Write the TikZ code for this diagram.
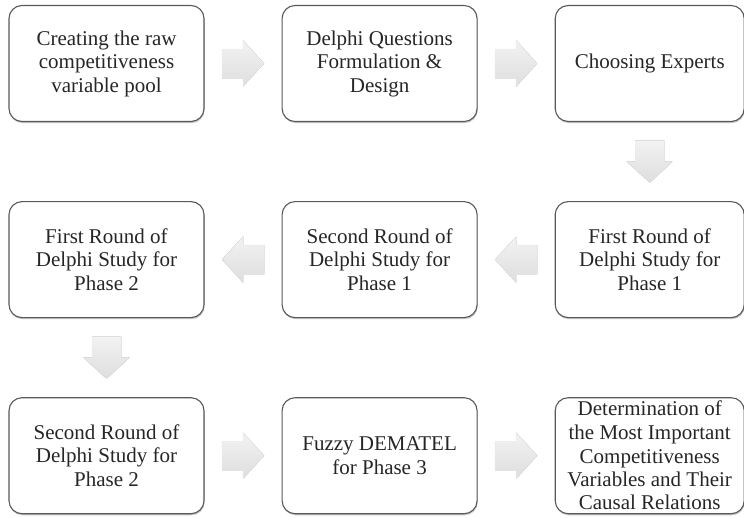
\documentclass[tikz,border=0pt]{standalone}
\usepackage{fontspec}
\setmainfont{Liberation Serif}
\usetikzlibrary{calc,positioning,shadows}
\def\blockarrow(#1)(#2)(#3){\fill[arrowfill, shift={($(#1)!0.5!(#2)$)}, rotate=#3] (-21pt,-14.5pt) -- (0pt,-14.5pt) -- (0pt,-23pt) -- (21pt,0pt) -- (0pt,23pt) -- (0pt,14.5pt) -- (-21pt,14.5pt) -- cycle;}

\begin{document}
\begin{tikzpicture}[
		node distance=79pt and 77pt,
		stepbox/.style={draw=black!65, line width=1.1pt, fill=white, rounded corners=13pt,
			minimum width=195pt, minimum height=116pt, inner sep=1pt, align=center,
			text=black!85, font=\fontsize{21}{23.5}\selectfont,
			drop shadow={shadow xshift=0.6pt, shadow yshift=-1.6pt, opacity=0.45}},
		narrowbox/.style={stepbox, minimum width=189pt},
		arrowfill/.style={top color=black!5, bottom color=black!13, draw=black!8, line width=0.4pt}]
		%%%%% START %%%%%
		
		\useasboundingbox (0,0) rectangle (744pt,-517pt);
		
		% first row
		\node[stepbox] (pool) at (106.5pt,-63.5pt) {Creating the raw\\competitiveness\\variable pool};
		\node[stepbox, right=of pool] (design) {Delphi Questions\\Formulation \&\\Design};
		\node[narrowbox, right=of design] (experts) {Choosing Experts};
		
		% second row
		\node[narrowbox, below=of experts] (roundap) {First Round of\\Delphi Study for\\Phase 1};
		\node[stepbox, left=of roundap] (roundbp) {Second Round of\\Delphi Study for\\Phase 1};
		\node[stepbox, left=of roundbp] (roundaq) {First Round of\\Delphi Study for\\Phase 2};
		
		% third row
		\node[stepbox, below=of roundaq] (roundbq) {Second Round of\\Delphi Study for\\Phase 2};
		\node[stepbox, right=of roundbq] (dematel) {Fuzzy DEMATEL\\for Phase 3};
		\node[narrowbox, right=of dematel] (result) {Determination of\\the Most Important\\Competitiveness\\Variables and Their\\Causal Relations};
		
		\blockarrow(pool.east)(design.west)(0)
		\blockarrow(design.east)(experts.west)(0)
		\blockarrow(experts.south)(roundap.north)(-90)
		\blockarrow(roundap.west)(roundbp.east)(180)
		\blockarrow(roundbp.west)(roundaq.east)(180)
		\blockarrow(roundaq.south)(roundbq.north)(-90)
		\blockarrow(roundbq.east)(dematel.west)(0)
		\blockarrow(dematel.east)(result.west)(0)
		
		%%%%% END %%%%%
	\end{tikzpicture}
\end{document}
